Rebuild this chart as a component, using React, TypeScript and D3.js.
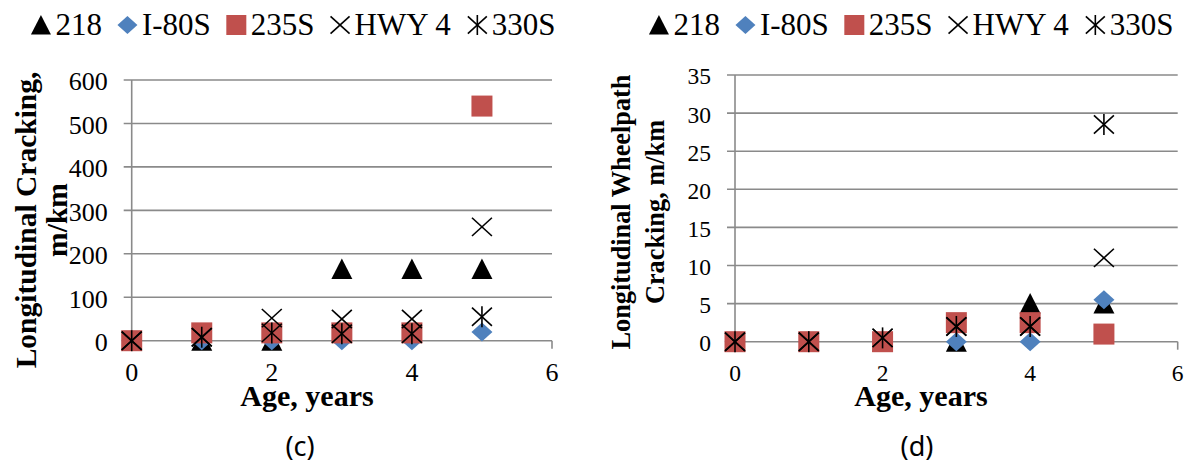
import { useMemo } from "react";
import * as d3 from "d3";

const AGES = [0, 1, 2, 3, 4, 5];
const SERIES = ["218", "I-80S", "235S", "HWY 4", "330S"];
const MARKERS = ["triangle", "diamond", "square", "x", "asterisk"];
const COLORS = ["#000000", "#4F81BD", "#C0504D", "#000000", "#000000"];

// (c) longitudinal cracking, m/km
const C_218 = [0, 0, 0, 165, 165, 165];
const C_I80S = [0, 0, 0, 0, 0, 20];
const C_235S = [0, 18, 18, 18, 18, 540];
const C_HWY4 = [0, 8, 52, 50, 50, 262];
const C_330S = [0, 8, 18, 16, 16, 55];
const C_YTICKS = [0, 100, 200, 300, 400, 500, 600];

// (d) longitudinal wheelpath cracking, m/km
const D_218 = [0, 0, 0, 0, 5, 5];
const D_I80S = [0, 0, 0, 0, 0, 5.5];
const D_235S = [0, 0, 0, 2.5, 2.5, 1];
const D_HWY4 = [0, 0, 0.5, 2, 2, 11];
const D_330S = [0, 0, 0.5, 2, 2, 28.5];
const D_YTICKS = [0, 5, 10, 15, 20, 25, 30, 35];

const X_TICKS = [0, 2, 4, 6];

const SERIF = "Liberation Serif";
const GRID = "#8a8a8a";

// Times advance widths (em) for the legend layout
const CHAR_W: Record<string, number> = { I: 0.333, "-": 0.333, S: 0.556, H: 0.722, W: 0.944, Y: 0.722, " ": 0.25 };
const textWidth = (s: string, size: number) => d3.sum(s.split(""), (c) => CHAR_W[c] ?? 0.5) * size;

const Marker = ({ type, x, y, color, s = 10.5 }: any) => {
  if (type === "triangle")
    return <path d={`M${x},${y - s}L${x + s},${y + s * 0.95}L${x - s},${y + s * 0.95}Z`} fill={color} />;
  if (type === "diamond")
    return <path d={`M${x},${y - s * 0.9}L${x + s},${y}L${x},${y + s * 0.9}L${x - s},${y}Z`} fill={color} />;
  if (type === "square")
    return <rect x={x - s} y={y - s} width={s * 2} height={s * 2} fill={color} />;
  const d = s * 0.95;
  const h = s * 0.87;
  return (
    <g stroke={color} strokeWidth={1.6}>
      <line x1={x - d} y1={y - h} x2={x + d} y2={y + h} />
      <line x1={x - d} y1={y + h} x2={x + d} y2={y - h} />
      {type === "asterisk" && <line x1={x} y1={y - s} x2={x} y2={y + s} />}
    </g>
  );
};

const Legend = ({ cx, y }: any) => {
  const size = 31;
  const mw = 21;
  const gap = 15;
  const items = SERIES.map((name) => ({ name, w: mw + 4 + textWidth(name, size) }));
  const total = d3.sum(items, (d) => d.w) + gap * (items.length - 1);
  let pos = cx - total / 2;
  return (
    <g>
      {items.map((it, i) => {
        const x0 = pos;
        pos += it.w + gap;
        return (
          <g key={it.name}>
            <Marker type={MARKERS[i]} x={x0 + mw / 2} y={y - 10} color={COLORS[i]} s={10} />
            <text x={x0 + mw + 4} y={y} style={{ fontFamily: SERIF, fontSize: size }} fill="#000">
              {it.name}
            </text>
          </g>
        );
      })}
    </g>
  );
};

const Panel = ({ series, yTicks, xRange, yRange, tickSize, titleLines, titleX, titleSize, titleCy, label, legendCx, ageCx, labelCx }: any) => {
  const xScale = useMemo(() => d3.scaleLinear().domain([0, 6]).range(xRange), [xRange]);
  const yMax = yTicks[yTicks.length - 1];
  const yScale = useMemo(() => d3.scaleLinear().domain([0, yMax]).range(yRange), [yRange, yMax]);
  const [x0, x1] = xRange;
  const tickStyle = { fontFamily: SERIF, fontSize: tickSize };

  return (
    <g>
      <Legend cx={legendCx} y={35} />
      {yTicks.map((t: number) => (
        <g key={t}>
          <line x1={x0 - 8} x2={x1} y1={yScale(t)} y2={yScale(t)} stroke={GRID} strokeWidth={1.6} />
          <text x={x0 - 24} y={yScale(t) + tickSize * 0.4} textAnchor="end" style={tickStyle}>
            {String(t)}
          </text>
        </g>
      ))}
      <line x1={x0} x2={x0} y1={yRange[1]} y2={yRange[0]} stroke={GRID} strokeWidth={1.6} />
      {X_TICKS.map((t) => (
        <g key={t}>
          <line x1={xScale(t)} x2={xScale(t)} y1={yRange[0]} y2={yRange[0] + 8} stroke={GRID} strokeWidth={1.6} />
          <text x={xScale(t)} y={381} textAnchor="middle" style={tickStyle}>
            {String(t)}
          </text>
        </g>
      ))}
      {series.map((vals: number[], si: number) =>
        vals.map((v, i) => (
          <Marker key={`${si}-${i}`} type={MARKERS[si]} x={xScale(AGES[i])} y={yScale(v)} color={COLORS[si]} />
        ))
      )}
      {titleLines.map((s: string, i: number) => (
        <text
          key={s}
          transform={`translate(${titleX[i]},${titleCy}) rotate(-90)`}
          textAnchor="middle"
          style={{ fontFamily: SERIF, fontWeight: 700, fontSize: titleSize }}
        >
          {s}
        </text>
      ))}
      <text x={ageCx} y={406} textAnchor="middle" style={{ fontFamily: SERIF, fontWeight: 700, fontSize: 30 }}>
        Age, years
      </text>
      <text x={labelCx} y={456} textAnchor="middle" style={{ fontFamily: "Noto Sans", fontSize: 27 }}>
        {label}
      </text>
    </g>
  );
};

export default function App() {
  return (
    <div style={{ position: "absolute", left: 0, top: 0 }}>
      <svg width={1189} height={469} style={{ display: "block", background: "#fff" }}>
        <Panel
          series={[C_218, C_I80S, C_235S, C_HWY4, C_330S]}
          yTicks={C_YTICKS}
          xRange={[131.7, 552]}
          yRange={[340.7, 80]}
          tickSize={26}
          titleLines={["Longitudinal Cracking,", "m/km"]}
          titleX={[36, 67]}
          titleSize={29.5}
          titleCy={220}
          label="(c)"
          legendCx={293}
          ageCx={307}
          labelCx={300}
        />
        <Panel
          series={[D_218, D_I80S, D_235S, D_HWY4, D_330S]}
          yTicks={D_YTICKS}
          xRange={[735, 1177.7]}
          yRange={[341.7, 75]}
          tickSize={23.5}
          titleLines={["Longitudinal Wheelpath", "Cracking, m/km"]}
          titleX={[630, 664]}
          titleSize={26.3}
          titleCy={212}
          label="(d)"
          legendCx={911}
          ageCx={921}
          labelCx={917}
        />
      </svg>
    </div>
  );
}
